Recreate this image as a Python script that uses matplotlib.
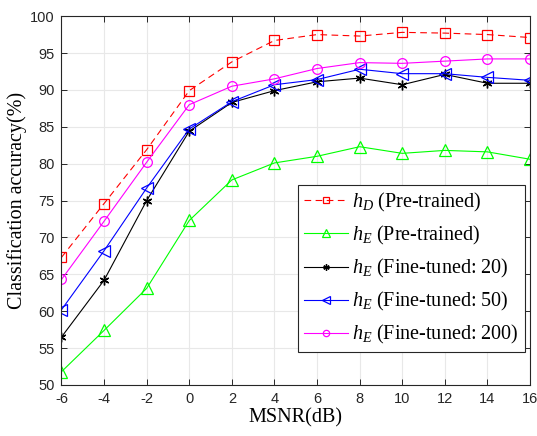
import matplotlib
matplotlib.use("Agg")
import matplotlib.pyplot as plt

plt.rcParams['mathtext.fontset'] = 'custom'
plt.rcParams['mathtext.rm'] = 'Liberation Serif'
plt.rcParams['mathtext.it'] = 'Liberation Serif:italic'
plt.rcParams['axes.unicode_minus'] = False
plt.rcParams['font.family'] = 'Liberation Sans'

# data
msnr = [-6, -4, -2, 0, 2, 4, 6, 8, 10, 12, 14, 16]
hd_pre = [67.3, 74.6, 81.9, 89.9, 93.8, 96.7, 97.5, 97.3, 97.8, 97.7, 97.5, 97.1]
he_pre = [51.8, 57.4, 63.1, 72.3, 77.8, 80.1, 81.0, 82.3, 81.4, 81.8, 81.6, 80.6]
he_ft20 = [56.5, 64.2, 75.0, 84.4, 88.3, 89.9, 91.1, 91.6, 90.7, 92.1, 90.9, 90.9]
he_ft50 = [60.2, 68.2, 76.7, 84.7, 88.4, 90.7, 91.4, 92.8, 92.2, 92.2, 91.7, 91.3]
he_ft200 = [64.3, 72.2, 80.2, 88.0, 90.5, 91.5, 92.9, 93.7, 93.6, 93.9, 94.2, 94.2]

labels = [r'$h_D$ (Pre-trained)', r'$h_E$ (Pre-trained)', r'$h_E$ (Fine-tuned: 20)',
          r'$h_E$ (Fine-tuned: 50)', r'$h_E$ (Fine-tuned: 200)']

fig = plt.figure(figsize=(5.37, 4.36), dpi=100)
ax = fig.add_axes([0.1145, 0.117, 0.8725, 0.846])

lw = 0.8
ax.plot(msnr, hd_pre, color='#ff0000', ls=(0, (6, 4)), lw=lw, marker='s', ms=6.5,
        mfc='none', mew=0.9, label=labels[0])
ax.plot(msnr, he_pre, color='#00ff00', lw=lw, marker='^', ms=8,
        mfc='none', mew=0.9, label=labels[1])
ax.plot(msnr, he_ft20, color='k', lw=lw, marker=(6, 2, 0), ms=7,
        mfc='none', mew=1.0, label=labels[2])
ax.plot(msnr, he_ft50, color='#0000ff', lw=lw, marker='<', ms=8,
        mfc='none', mew=0.9, label=labels[3])
ax.plot(msnr, he_ft200, color='#ff00ff', lw=lw, marker='o', ms=7,
        mfc='none', mew=0.9, label=labels[4])

ax.set_xlim(-6, 16)
ax.set_ylim(50, 100)
ax.set_xticks(range(-6, 17, 2))
ax.set_yticks(range(50, 101, 5))
ax.grid(True, color='#e8e8e8', lw=0.8)
ax.set_axisbelow(True)
ax.tick_params(direction='in', top=True, right=True, length=4, width=0.7,
               labelsize=10.5, colors='#262626', pad=5)
for s in ax.spines.values():
    s.set_linewidth(0.8)
    s.set_color('#262626')

ax.set_xlabel('MSNR(dB)', fontfamily='Liberation Serif', fontsize=14.5, labelpad=2)
ax.set_ylabel('Classification accuracy(%)', fontfamily='Liberation Serif', fontsize=14.5)
ax.yaxis.set_label_coords(-0.074, 0.5)

leg = ax.legend(loc='upper right', bbox_to_anchor=(0.978, 0.576), bbox_transform=fig.transFigure,
                prop={'family': 'Liberation Serif', 'size': 14.5}, fancybox=False,
                edgecolor='#262626', framealpha=1, handlelength=2.2, handletextpad=0.2,
                labelspacing=0.5, borderpad=0.3, borderaxespad=0, markerscale=0.65)
leg.get_frame().set_linewidth(0.8)

fig.savefig('out.png', dpi=100)
